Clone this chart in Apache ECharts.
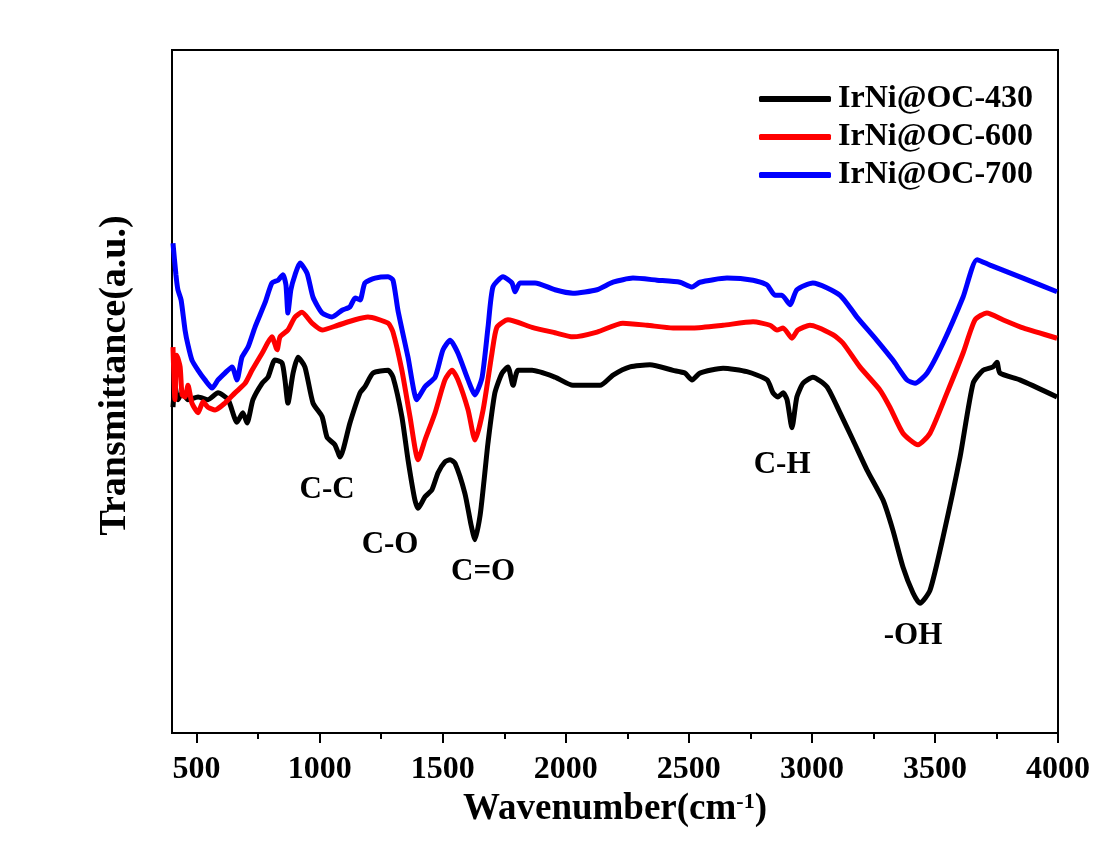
<!DOCTYPE html>
<html>
<head>
<meta charset="utf-8">
<script src="https://cdn.jsdelivr.net/npm/echarts@6/dist/echarts.min.js"></script>
<style>html,body{margin:0;padding:0;background:#fff}#c{width:1103px;height:852px}</style>
</head>
<body>
<div id="c"></div>
<script>
const seriesNames = ['IrNi@OC-430', 'IrNi@OC-600', 'IrNi@OC-700'];
const seriesColors = ['#000000', '#ff0000', '#0000ff'];
const majorTicks = [500, 1000, 1500, 2000, 2500, 3000, 3500, 4000];
const minorTicks = [750, 1250, 1750, 2250, 2750, 3250, 3750];

const black430 = [[404,47.7],[412,50.9],[424,48.8],[441,49.8],[465,48.8],[506,49.2],[546,48.8],[587,49.8],[628,48.8],[664,45.5],[688,46.9],[705,45.4],[729,48.8],[766,51.2],[790,52.1],[818,54.6],[847,54.2],[859,51.7],[871,48.3],[892,52.7],[912,55.0],[940,53.6],[973,48.3],[1010,46.3],[1030,43.3],[1062,42.2],[1083,40.4],[1123,45.4],[1164,49.8],[1184,50.7],[1217,52.7],[1278,53.1],[1298,52.1],[1334,46.3],[1359,40.0],[1387,34.1],[1400,32.9],[1428,34.6],[1456,35.6],[1481,38.1],[1509,39.7],[1530,40.0],[1550,39.5],[1590,35.1],[1615,30.5],[1631,28.3],[1652,31.9],[1668,37.0],[1684,42.5],[1712,49.8],[1741,52.7],[1765,53.6],[1786,50.9],[1806,53.1],[1863,53.1],[1956,52.1],[2029,50.9],[2139,50.9],[2192,52.4],[2261,53.6],[2342,53.9],[2436,53.1],[2484,52.7],[2513,51.7],[2545,52.7],[2639,53.4],[2736,52.9],[2818,51.7],[2842,49.8],[2862,49.2],[2883,49.8],[2899,48.8],[2919,44.7],[2939,49.2],[2964,51.2],[3004,52.1],[3061,50.7],[3114,46.9],[3167,42.9],[3224,38.5],[3289,34.1],[3329,29.7],[3370,24.3],[3411,20.5],[3439,19.0],[3480,20.9],[3533,28.7],[3602,40.4],[3655,51.2],[3695,53.1],[3736,53.6],[3752,54.3],[3764,52.7],[3845,51.7],[3996,49.2]];

const red600 = [[404,56.5],[412,48.8],[420,55.3],[433,53.6],[441,49.5],[453,49.2],[465,50.9],[481,48.3],[506,46.9],[526,48.5],[546,47.7],[575,47.3],[615,48.3],[656,49.8],[697,51.2],[725,53.1],[766,55.6],[806,58.0],[827,56.1],[839,58.0],[871,59.0],[900,60.9],[928,61.6],[969,60.0],[1010,59.0],[1074,59.7],[1144,60.5],[1196,60.9],[1278,60.0],[1298,58.7],[1334,53.1],[1367,46.3],[1400,40.0],[1428,42.9],[1469,46.9],[1509,51.7],[1538,53.1],[1562,51.7],[1603,47.3],[1631,42.9],[1664,47.3],[1700,55.6],[1720,59.4],[1765,60.5],[1863,59.4],[1956,58.6],[2029,58.0],[2127,58.7],[2232,60.0],[2330,59.7],[2436,59.3],[2517,59.3],[2639,59.7],[2761,60.2],[2830,59.7],[2858,59.0],[2883,59.3],[2919,57.8],[2943,59.0],[2992,59.7],[3086,58.3],[3126,57.1],[3195,53.6],[3277,50.2],[3317,47.7],[3370,43.9],[3431,42.2],[3480,43.9],[3549,49.8],[3614,55.6],[3663,60.5],[3711,61.5],[3776,60.5],[3858,59.3],[3996,57.8]];

const blue700 = [[404,71.7],[416,67.1],[424,64.9],[437,63.4],[453,59.0],[465,56.8],[481,54.6],[506,53.1],[534,51.7],[563,50.5],[587,51.7],[615,52.7],[644,53.6],[664,51.7],[684,55.0],[709,56.5],[737,59.4],[778,63.0],[806,65.9],[831,66.3],[851,67.1],[863,65.6],[871,61.5],[883,64.9],[900,67.1],[920,68.8],[949,67.3],[973,63.8],[1010,61.5],[1050,60.9],[1091,61.9],[1123,62.4],[1144,63.7],[1164,63.4],[1184,65.9],[1225,66.6],[1278,66.8],[1298,66.3],[1318,61.9],[1359,55.0],[1395,48.8],[1428,50.7],[1469,52.1],[1501,56.1],[1530,57.5],[1562,55.6],[1603,51.7],[1631,49.5],[1660,52.1],[1684,59.4],[1704,65.3],[1745,66.8],[1781,65.9],[1794,64.6],[1814,65.9],[1875,65.9],[1956,64.9],[2029,64.4],[2127,64.9],[2192,66.0],[2273,66.6],[2371,66.3],[2464,66.0],[2513,65.3],[2545,66.0],[2655,66.6],[2761,66.3],[2818,65.6],[2850,64.1],[2878,64.1],[2911,62.7],[2939,64.9],[3004,65.9],[3114,64.1],[3183,60.9],[3264,57.5],[3329,54.6],[3386,51.7],[3419,51.2],[3468,52.7],[3533,57.1],[3614,63.8],[3671,69.3],[3724,68.5],[3858,66.6],[3996,64.6]];

const peakLabels = ['C-C', 'C-O', 'C=O', 'C-H', '-OH'];
const peakLabelPos = [[1030,35.6],[1286,27.5],[1664,23.6],[2879,39.2],[3411,14.2]];

const font = 'Liberation Serif';
const chart = echarts.init(document.getElementById('c'), null, {renderer: 'canvas'});
const datasets = [black430, red600, blue700];

const series = datasets.map((d, i) => ({
  name: seriesNames[i],
  type: 'line',
  data: d,
  symbol: 'none',
  smooth: 0.2,
  lineStyle: {color: seriesColors[i], width: 5},
  itemStyle: {color: seriesColors[i]},
  animation: false,
  z: 2 + i
}));
series[0].markPoint = {
  symbol: 'circle',
  symbolSize: 0,
  animation: false,
  label: {show: true, position: 'inside', formatter: '{b}', color: '#000', fontFamily: font, fontWeight: 'bold', fontSize: 31},
  data: peakLabels.map((n, i) => ({name: n, coord: peakLabelPos[i]}))
};

chart.setOption({
  backgroundColor: '#ffffff',
  animation: false,
  grid: {left: 172, right: 45, top: 50, bottom: 119, show: true, borderColor: '#000', borderWidth: 2, backgroundColor: 'transparent'},
  legend: {
    data: seriesNames.map((n, i) => ({name: n, icon: 'roundRect', itemStyle: {color: seriesColors[i]}})),
    orient: 'vertical',
    left: 754,
    top: 78,
    itemWidth: 72,
    itemHeight: 6,
    itemGap: 6,
    textStyle: {fontFamily: font, fontWeight: 'bold', fontSize: 32, color: '#000', padding: [0, 0, 0, 2]}
  },
  xAxis: [{
    type: 'value',
    min: 400,
    max: 4000,
    position: 'bottom',
    axisLine: {show: true, lineStyle: {color: '#000', width: 2}},
    axisTick: {show: true, customValues: majorTicks, length: 10, inside: false, lineStyle: {color: '#000', width: 2}},
    axisLabel: {show: true, customValues: majorTicks, formatter: v => String(v), margin: 21, color: '#000', fontFamily: font, fontWeight: 'bold', fontSize: 32},
    splitLine: {show: false},
    name: '{a|Wavenumber(cm}{s|-1}{a|)}',
    nameLocation: 'middle',
    nameGap: 40,
    nameTextStyle: {
      rich: {
        a: {fontFamily: font, fontWeight: 'bold', fontSize: 37, color: '#000'},
        s: {fontFamily: font, fontWeight: 'bold', fontSize: 22, color: '#000', verticalAlign: 'top', padding: [0, 0, 16, 0]}
      }
    }
  }, {
    type: 'value',
    min: 400,
    max: 4000,
    position: 'bottom',
    axisLine: {show: false},
    axisTick: {show: true, customValues: minorTicks, length: 6, inside: false, lineStyle: {color: '#000', width: 2}},
    axisLabel: {show: false},
    splitLine: {show: false}
  }],
  yAxis: {
    type: 'value',
    min: 0,
    max: 100,
    axisLine: {show: true, lineStyle: {color: '#000', width: 2}},
    axisTick: {show: false},
    axisLabel: {show: false},
    splitLine: {show: false},
    name: 'Transmittance(a.u.)',
    nameLocation: 'middle',
    nameGap: 38,
    nameTextStyle: {fontFamily: font, fontWeight: 'bold', fontSize: 38, color: '#000', padding: [0, 0, 0, 32]}
  },
  series: series
});
</script>
</body>
</html>
